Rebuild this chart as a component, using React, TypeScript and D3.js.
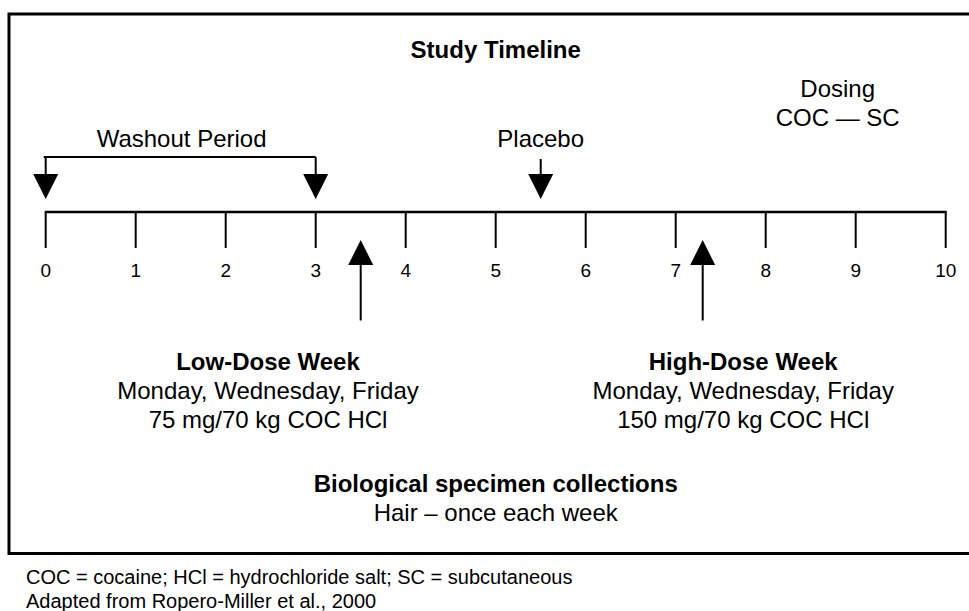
import * as d3 from "d3";

const WIDTH = 969;
const HEIGHT = 611;
const FONT = "'Liberation Sans', Arial, sans-serif";

// timeline weeks (tick labels)
const weeks = [0, 1, 2, 3, 4, 5, 6, 7, 8, 9, 10];
// washout bracket start/end weeks
const washoutWeeks = [0, 3];
const placeboWeek = 5.5;
// upward arrows: dose weeks
const doseWeeks = [3.5, 7.3];
const doseLabelWeeks = [2.47, 7.75];
const doseTitles = ["Low-Dose Week", "High-Dose Week"];
const doseDays = ["Monday, Wednesday, Friday", "Monday, Wednesday, Friday"];
const doseAmounts = ["75 mg/70 kg COC HCl", "150 mg/70 kg COC HCl"];
const footnotes = [
  "COC = cocaine; HCl = hydrochloride salt; SC = subcutaneous",
  "Adapted from Ropero-Miller et al., 2000",
];

const AXIS_Y = 212;
const TICK_LEN = 36;
const HEAD_W = 12.5;
const HEAD_H = 25;

const downHead = (x: number, tipY: number) =>
  `M${x},${tipY} L${x - HEAD_W},${tipY - HEAD_H} L${x + HEAD_W},${tipY - HEAD_H} Z`;
const upHead = (x: number, tipY: number) =>
  `M${x},${tipY} L${x - HEAD_W},${tipY + HEAD_H} L${x + HEAD_W},${tipY + HEAD_H} Z`;

export default function App() {
  const x = d3.scaleLinear().domain([0, 10]).range([45.7, 945.7]);

  return (
    <svg
      width={WIDTH}
      height={HEIGHT}
      style={{ position: "absolute", left: 0, top: 0, background: "#fff" }}
      fontFamily={FONT}
    >
      {/* frame */}
      <rect x={9} y={14} width={975} height={539.5} fill="none" stroke="#000" strokeWidth={3} />

      <text x={x(5)} y={58} textAnchor="middle" fontSize={24} fontWeight="bold">
        Study Timeline
      </text>

      {/* dosing legend */}
      <text x={x(8.8)} y={97} textAnchor="middle" fontSize={24}>
        Dosing
      </text>
      <text x={x(8.8)} y={126} textAnchor="middle" fontSize={24}>
        COC — SC
      </text>

      {/* washout bracket */}
      <text x={x(1.51)} y={147} textAnchor="middle" fontSize={24}>
        Washout Period
      </text>
      <line x1={x(washoutWeeks[0]) - 2} x2={x(washoutWeeks[1])} y1={157} y2={157} stroke="#000" strokeWidth={2} />
      {washoutWeeks.map((w) => (
        <g key={w}>
          <line x1={x(w)} x2={x(w)} y1={157} y2={176} stroke="#000" strokeWidth={2} />
          <path d={downHead(x(w), 199)} fill="#000" />
        </g>
      ))}

      {/* placebo */}
      <text x={x(placeboWeek)} y={147} textAnchor="middle" fontSize={24}>
        Placebo
      </text>
      <line x1={x(placeboWeek)} x2={x(placeboWeek)} y1={159} y2={176} stroke="#000" strokeWidth={2} />
      <path d={downHead(x(placeboWeek), 199)} fill="#000" />

      {/* axis */}
      <line x1={x(0) - 1} x2={x(10) + 1} y1={AXIS_Y} y2={AXIS_Y} stroke="#000" strokeWidth={2.5} />
      {weeks.map((w) => (
        <g key={w} transform={`translate(${x(w)},0)`}>
          <line y1={AXIS_Y} y2={AXIS_Y + TICK_LEN} stroke="#000" strokeWidth={2} />
          <text y={277} textAnchor="middle" fontSize={19}>
            {w}
          </text>
        </g>
      ))}

      {/* dose arrows and labels */}
      {doseWeeks.map((w, i) => (
        <g key={w}>
          <line x1={x(w)} x2={x(w)} y1={262} y2={320.5} stroke="#000" strokeWidth={2} />
          <path d={upHead(x(w), 240)} fill="#000" />
          <text x={x(doseLabelWeeks[i])} y={370} textAnchor="middle" fontSize={24} fontWeight="bold">
            {doseTitles[i]}
          </text>
          <text x={x(doseLabelWeeks[i])} y={399} textAnchor="middle" fontSize={24}>
            {doseDays[i]}
          </text>
          <text x={x(doseLabelWeeks[i])} y={427.5} textAnchor="middle" fontSize={24}>
            {doseAmounts[i]}
          </text>
        </g>
      ))}

      <text x={x(5)} y={492} textAnchor="middle" fontSize={24} fontWeight="bold">
        Biological specimen collections
      </text>
      <text x={x(5)} y={521} textAnchor="middle" fontSize={24}>
        Hair – once each week
      </text>

      {footnotes.map((f, i) => (
        <text key={i} x={26} y={583.5 + i * 24.5} fontSize={20}>
          {f}
        </text>
      ))}
    </svg>
  );
}
